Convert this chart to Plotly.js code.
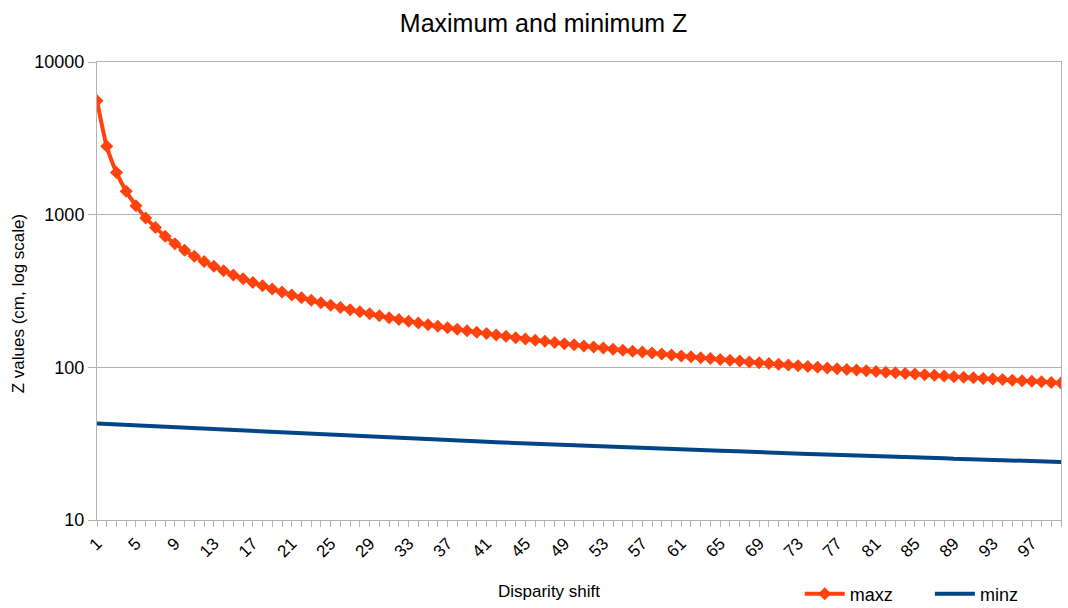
<!DOCTYPE html>
<html>
<head>
<meta charset="utf-8">
<script src="https://cdn.plot.ly/plotly-3.0.1.min.js"></script>
<style>
html,body{margin:0;padding:0;background:#fff;}
#chart{width:1068px;height:608px;}
</style>
</head>
<body>
<div id="chart"></div>
<script>
const shift = [1,2,3,4,5,6,7,8,9,10,11,12,13,14,15,16,17,18,19,20,
  21,22,23,24,25,26,27,28,29,30,31,32,33,34,35,36,37,38,39,40,
  41,42,43,44,45,46,47,48,49,50,51,52,53,54,55,56,57,58,59,60,
  61,62,63,64,65,66,67,68,69,70,71,72,73,74,75,76,77,78,79,80,
  81,82,83,84,85,86,87,88,89,90,91,92,93,94,95,96,97,98,99,100];

const maxz = [5580,2802,1892,1421,1146,951,825,721,646,584,
  534,493,459,429,403,380,360,342,326,311,
  298,286,274.8,264.7,255.3,246.7,238.7,231.2,224.2,217.7,
  211.6,205.9,200.4,195.3,190.4,185.9,181.5,177.4,173.5,169.8,
  166.3,162.9,159.6,156.5,153.6,150.7,148.0,145.4,142.8,140.4,
  138.1,135.8,133.7,131.6,129.6,127.6,125.8,124.0,122.2,120.5,
  118.8,117.2,115.7,114.1,112.7,111.2,109.9,108.5,107.2,105.9,
  104.7,103.5,102.3,101.2,100.1,99.0,97.9,96.9,95.9,94.9,
  93.9,93.0,92.0,91.1,90.3,89.4,88.6,87.7,86.9,86.1,
  85.4,84.6,83.9,83.1,82.4,81.7,81.0,80.4,79.7,79.1];

const minz = [42.8,42.5,42.1,41.8,41.5,41.2,40.9,40.6,40.3,40.0,
  39.7,39.4,39.1,38.8,38.5,38.3,38.0,37.7,37.5,37.2,
  37.0,36.7,36.5,36.2,36.0,35.7,35.5,35.3,35.0,34.8,
  34.6,34.4,34.2,33.9,33.7,33.5,33.3,33.1,32.9,32.7,
  32.5,32.3,32.1,31.9,31.8,31.6,31.4,31.2,31.0,30.8,
  30.7,30.5,30.3,30.2,30.0,29.8,29.7,29.5,29.3,29.2,
  29.0,28.9,28.7,28.6,28.4,28.3,28.1,28.0,27.8,27.7,
  27.6,27.4,27.3,27.1,27.0,26.9,26.7,26.6,26.5,26.3,
  26.2,26.1,26.0,25.8,25.7,25.6,25.5,25.4,25.2,25.1,
  25.0,24.9,24.8,24.7,24.6,24.4,24.3,24.2,24.1,24.0];

const xTickVals = [1,5,9,13,17,21,25,29,33,37,41,45,49,53,57,61,65,69,73,77,81,85,89,93,97];
const xTickText = ["1","5","9","13","17","21","25","29","33","37","41","45","49","53","57","61","65","69","73","77","81","85","89","93","97"];
const yTickVals = [10,100,1000,10000];
const yTickText = ["10","100","1000","10000"];

const FONT = "Liberation Sans, Arial, sans-serif";
const GRID = "#b3b3b3";

const traces = [
  {
    x: shift, y: maxz, name: "maxz", type: "scatter", mode: "lines+markers",
    line: {color: "#ff420e", width: 4, shape: "spline", smoothing: 0.6},
    marker: {symbol: "diamond", size: 10, color: "#ff420e"},
    legend: "legend"
  },
  {
    x: shift, y: minz, name: "minz", type: "scatter", mode: "lines",
    line: {color: "#004586", width: 4},
    legend: "legend2"
  }
];

const legendBase = {
  orientation: "h", xanchor: "left", xref: "paper",
  y: 0.023, yref: "container", yanchor: "middle",
  font: {family: FONT, size: 18, color: "#000"}, itemwidth: 40,
  bgcolor: "rgba(0,0,0,0)"
};

const layout = {
  width: 1068, height: 608,
  paper_bgcolor: "#ffffff", plot_bgcolor: "#ffffff",
  margin: {l: 97, r: 7, t: 62, b: 88, pad: 0, autoexpand: false},
  font: {family: FONT, size: 17, color: "#000000"},
  title: {text: "Maximum and minimum Z", font: {family: FONT, size: 25, color: "#000"},
          x: 0.509, xref: "container", xanchor: "center", y: 0.962, yref: "container", yanchor: "middle"},
  showlegend: true,
  legend: Object.assign({}, legendBase, {x: 0.729}),
  legend2: Object.assign({}, legendBase, {x: 0.864}),
  xaxis: {
    type: "linear", range: [1, 100], autorange: false, automargin: false,
    tickmode: "array", tickvals: xTickVals, ticktext: xTickText,
    tickangle: -45, ticks: "outside", ticklen: 6, tickcolor: GRID, tickwidth: 1,
    tickfont: {family: FONT, size: 17, color: "#000"},
    showgrid: false, zeroline: false,
    showline: true, linecolor: GRID, linewidth: 1, mirror: true,
    minor: {tickmode: "linear", tick0: 1, dtick: 1, ticks: "outside", ticklen: 6, tickcolor: GRID, tickwidth: 1, showgrid: false}
  },
  yaxis: {
    type: "log", range: [1, 4], autorange: false, automargin: false,
    tickmode: "array", tickvals: yTickVals, ticktext: yTickText,
    ticks: "outside", ticklen: 8, tickcolor: GRID, tickwidth: 1,
    tickfont: {family: FONT, size: 18, color: "#000"},
    showgrid: true, gridcolor: GRID, gridwidth: 1, zeroline: false,
    showline: true, linecolor: GRID, linewidth: 1, mirror: true
  },
  annotations: [
    {text: "Disparity shift", xref: "paper", yref: "paper", x: 0.469, y: -0.157,
     xanchor: "center", yanchor: "middle", showarrow: false,
     font: {family: FONT, size: 17, color: "#000"}},
    {text: "Z values (cm, log scale)", xref: "paper", yref: "paper", x: -0.082, y: 0.473,
     xanchor: "center", yanchor: "middle", textangle: -90, showarrow: false,
     font: {family: FONT, size: 17, color: "#000"}}
  ]
};

Plotly.newPlot("chart", traces, layout, {displayModeBar: false, staticPlot: true});
</script>
</body>
</html>
